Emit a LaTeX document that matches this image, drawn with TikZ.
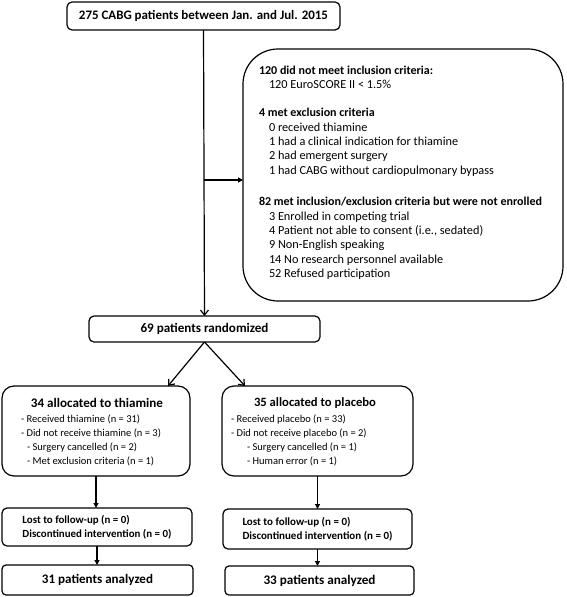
\documentclass[tikz,border=0pt]{standalone}
\usepackage{fontspec}
\setmainfont{Carlito}
\usetikzlibrary{arrows.meta}
% fit a font so that the sample text #3 (in series #1) is #2 bp wide; #4 = baselineskip
\newcommand\fitfont[4]{%
  \setbox0=\hbox{\fontsize{10pt}{12pt}\selectfont#1#3}%
  \pgfmathsetmacro\myfs{10*#2*1.00375/\the\wd0}%
  \fontsize{\myfs pt}{#4}\selectfont#1}
\newcommand\exhd[1]{{\fitfont{\bfseries}{283}{82 met inclusion/exclusion criteria but were not enrolled}{14.4bp}#1}}
\newcommand\exit[1]{\hspace{10bp}{\fitfont{\mdseries}{225}{1 had CABG without cardiopulmonary bypass}{14.4bp}#1}}
\begin{document}
\begin{tikzpicture}[x=1bp,y=-1bp,
  box/.style={draw, line width=1.2bp, rounded corners=5bp, inner sep=0, outer sep=0},
  txt/.style={inner sep=0, outer sep=0, align=left},
  conn/.style={line width=1.2bp, -{Triangle[length=5bp,width=5bp]}},
  vconn/.style={line width=1.2bp, -{Straight Barb[length=5bp,width=8bp]}}]
\useasboundingbox (0,0) rectangle (567,597);

\node[box, minimum width=273bp, minimum height=28bp, font={\fitfont{\bfseries}{249}{275 CABG patients between Jan. and Jul. 2015}{14bp}}] (top) at (203.5,16) {275 CABG patients between Jan. and Jul. 2015};

\node[box, rounded corners=35bp, minimum width=320bp, minimum height=252bp] (excl) at (403,175) {};
\node[txt, anchor=north west, font=\fontsize{12}{14.4bp}\selectfont] (exclT) at (259,66) {%
\exhd{120 did not meet inclusion criteria:}\\
\exit{120 EuroSCORE II < 1.5\%}\\[13.4bp]
\exhd{4 met exclusion criteria}\\
\exit{0 received thiamine}\\
\exit{1 had a clinical indication for thiamine}\\
\exit{2 had emergent surgery}\\
\exit{1 had CABG without cardiopulmonary bypass}\\[17bp]
\exhd{82 met inclusion/exclusion criteria but were not enrolled}\\
\exit{3 Enrolled in competing trial}\\
\exit{4 Patient not able to consent (i.e., sedated)}\\
\exit{9 Non-English speaking}\\
\exit{14 No research personnel available}\\
\exit{52 Refused participation}};

\node[box, minimum width=231bp, minimum height=26bp, font={\fitfont{\bfseries}{128}{69 patients randomized}{14bp}}] (rand) at (204.5,329) {69 patients randomized};

\node[box, rounded corners=12bp, minimum width=188bp, minimum height=90bp] (thi) at (96,431) {};
\node[txt, font={\fitfont{\bfseries}{132}{34 allocated to thiamine}{14bp}}] (thiT) at (97,403) {34 allocated to thiamine};
\node[txt, anchor=north west, font={\fitfont{\mdseries}{140}{- Did not receive thiamine (n = 3)}{13.8bp}}] (thiL) at (21,415) {%
- Received thiamine (n = 31)\\
- Did not receive thiamine (n = 3)\\
\hspace{6bp}- Surgery cancelled (n = 2)\\
\hspace{6bp}- Met exclusion criteria (n = 1)};

\node[box, rounded corners=12bp, minimum width=191bp, minimum height=90bp] (plc) at (317.5,431) {};
\node[txt, font={\fitfont{\bfseries}{122}{35 allocated to placebo}{14bp}}] (plcT) at (315,403) {35 allocated to placebo};
\node[txt, anchor=north west, font={\fitfont{\mdseries}{140}{- Did not receive thiamine (n = 3)}{13.8bp}}] (plcL) at (231,415) {%
- Received placebo (n = 33)\\
- Did not receive placebo (n = 2)\\
\hspace{16bp}- Surgery cancelled (n = 1)\\
\hspace{16bp}- Human error (n = 1)};

\node[box, minimum width=190bp, minimum height=38bp, align=left, font={\fitfont{\bfseries}{149}{Discontinued intervention (n = 0)}{14bp}}] (lost1) at (97,527) {Lost to follow-up (n = 0)\\Discontinued intervention (n = 0)};
\node[box, minimum width=189bp, minimum height=40bp, align=left, font={\fitfont{\bfseries}{150}{Discontinued intervention (n = 0)}{14bp}}] (lost2) at (317.5,529) {Lost to follow-up (n = 0)\\Discontinued intervention (n = 0)};

\node[box, rounded corners=4bp, minimum width=191bp, minimum height=30bp, font={\fitfont{\bfseries}{111}{31 patients analyzed}{14bp}}] (anal1) at (97.5,580) {31 patients analyzed};
\node[box, rounded corners=4bp, minimum width=189bp, minimum height=29bp, font={\fitfont{\bfseries}{112}{33 patients analyzed}{14bp}}] (anal2) at (319.5,580.5) {33 patients analyzed};

\coordinate (j) at (top.south |- 0,180);
\draw[vconn] (top.south) -- (rand.north);
\draw[conn] (j) -- (excl.west |- j);
\draw[vconn] (rand.south) -- ([xshift=-22bp]thi.north east);
\draw[vconn] (rand.south) -- ([xshift=23bp]plc.north west);
\draw[conn] (thi.south) -- (thi.south |- lost1.north);
\draw[conn] (plc.south) -- (plc.south |- lost2.north);
\draw[conn] (lost1.south) -- (lost1.south |- anal1.north);
\draw[conn] (lost2.south) -- (lost2.south |- anal2.north);
\end{tikzpicture}
\end{document}
